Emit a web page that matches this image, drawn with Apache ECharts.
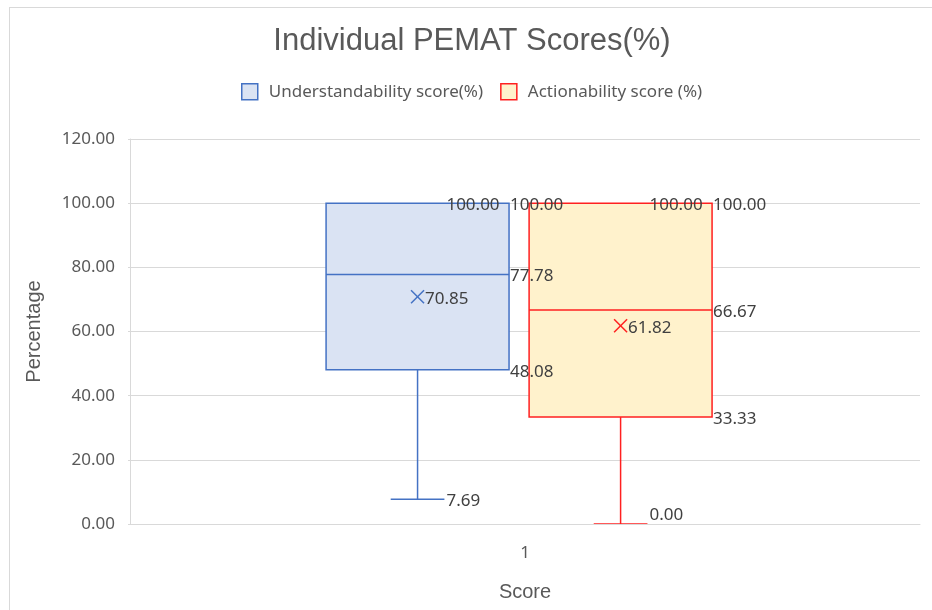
<!DOCTYPE html>
<html lang="en">
<head>
<meta charset="UTF-8">
<title>Individual PEMAT Scores</title>
<script src="https://cdn.jsdelivr.net/npm/echarts@6/dist/echarts.min.js"></script>
<style>
  body { margin: 0; background: #fff; }
  #frame { position: absolute; left: 9px; top: 7px; width: 923px; height: 603px;
           border-left: 1px solid #d9d9d9; border-top: 1px solid #d9d9d9; }
  #main { position: absolute; left: 0; top: 0; width: 932px; height: 610px; }
</style>
</head>
<body>
<div id="frame"></div>
<div id="main"></div>
<script type="text/javascript">
    var categories = ['1'];
    var seriesNames = ['Understandability score(%)', 'Actionability score (%)'];
    // min, q1, median, q3, max
    var understandStats = [7.69, 48.08, 77.78, 100.00, 100.00];
    var understandMean = 70.85;
    var actionStats = [0.00, 33.33, 66.67, 100.00, 100.00];
    var actionMean = 61.82;
    var yMin = 0, yMax = 120, yStep = 20;

    // look of each box: colours and where it sits inside the category band
    var boxLook = [
        { stroke: '#4472C4', fill: '#DAE3F3', offset: -0.136 },
        { stroke: '#FF2020', fill: '#FFF2CC', offset: 0.121 }
    ];
    var labelFont = '17px "Noto Sans"';

    function renderBox(params, api) {
        var look = boxLook[params.seriesIndex];
        var cat = api.value(0);
        var band = api.size([1, 0])[0];
        var cx = api.coord([cat, 0])[0] + look.offset * band;
        var half = band * 0.1158;
        var cap = band * 0.034;
        var y = function (i) { return api.coord([cat, api.value(i)])[1]; };
        var bottom = api.coord([cat, yMin])[1];
        var vMin = y(1), vQ1 = y(2), vMed = y(3), vQ3 = y(4), vMax = y(5), vMean = y(6);
        var ls = { stroke: look.stroke, lineWidth: 1.5 };
        var m = 6.5;

        var kids = [
            { type: 'rect', shape: { x: cx - half, y: vQ3, width: half * 2, height: vQ1 - vQ3 },
              style: { fill: look.fill, stroke: look.stroke, lineWidth: 1.5 } },
            { type: 'line', shape: { x1: cx - half, y1: vMed, x2: cx + half, y2: vMed }, style: ls },
            { type: 'line', shape: { x1: cx - m, y1: vMean - m, x2: cx + m, y2: vMean + m }, style: ls },
            { type: 'line', shape: { x1: cx - m, y1: vMean + m, x2: cx + m, y2: vMean - m }, style: ls }
        ];
        // whiskers only where they leave the box
        if (vMin > vQ1 + 0.5) {
            kids.push({ type: 'line', shape: { x1: cx, y1: vQ1, x2: cx, y2: vMin }, style: ls });
            kids.push({ type: 'line', shape: { x1: cx - cap, y1: vMin, x2: cx + cap, y2: vMin }, style: ls });
        }
        if (vMax < vQ3 - 0.5) {
            kids.push({ type: 'line', shape: { x1: cx, y1: vQ3, x2: cx, y2: vMax }, style: ls });
            kids.push({ type: 'line', shape: { x1: cx - cap, y1: vMax, x2: cx + cap, y2: vMax }, style: ls });
        }

        function lbl(idx, x, yy) {
            var low = yy + 9 > bottom;
            kids.push({
                type: 'text',
                style: {
                    text: api.value(idx).toFixed(2), x: x, y: low ? bottom : yy + 2,
                    fill: '#404040', font: labelFont, align: 'left',
                    verticalAlign: low ? 'bottom' : 'middle'
                },
                z2: 10
            });
        }
        lbl(5, cx + cap + 2, vMax);
        lbl(4, cx + half + 1, vQ3);
        lbl(3, cx + half + 1, vMed);
        lbl(2, cx + half + 1, vQ1);
        lbl(1, cx + cap + 2, vMin);
        lbl(6, cx + m + 1, vMean);

        return { type: 'group', children: kids };
    }

    var seriesData = [
        [[0].concat(understandStats, [understandMean])],
        [[0].concat(actionStats, [actionMean])]
    ];

    var myChart = echarts.init(document.getElementById('main'));
    var option = {
        animation: false,
        title: {
            text: 'Individual PEMAT Scores(%)',
            left: 467,
            textAlign: 'center',
            top: 21,
            textStyle: { fontFamily: 'Liberation Sans', fontWeight: 'normal', fontSize: 31, color: '#595959' }
        },
        legend: {
            left: 236,
            top: 78,
            itemWidth: 16,
            itemHeight: 16,
            itemGap: 17,
            icon: 'rect',
            textStyle: { fontFamily: 'Noto Sans', fontSize: 17, color: '#595959', padding: [0, 0, 0, 6] },
            data: seriesNames.map(function (n, i) {
                return { name: n, itemStyle: { color: boxLook[i].fill, borderColor: boxLook[i].stroke, borderWidth: 1.5 } };
            })
        },
        grid: { left: 130, right: 12, top: 139, bottom: 86 },
        xAxis: {
            type: 'category',
            data: categories,
            z: 3,
            name: 'Score',
            nameLocation: 'middle',
            nameGap: 58,
            nameTextStyle: { fontFamily: 'Liberation Sans', fontSize: 20, color: '#595959' },
            axisLine: { lineStyle: { color: '#d9d9d9' } },
            axisTick: { show: false },
            axisLabel: { fontFamily: 'Noto Sans', fontSize: 17, color: '#595959', margin: 21 }
        },
        yAxis: {
            type: 'value',
            min: yMin,
            max: yMax,
            interval: yStep,
            name: 'Percentage',
            nameLocation: 'middle',
            nameGap: 86,
            nameTextStyle: { fontFamily: 'Liberation Sans', fontSize: 20, color: '#595959' },
            axisLine: { show: true, lineStyle: { color: '#d9d9d9' } },
            axisTick: { show: true, length: 2, lineStyle: { color: '#d9d9d9' } },
            axisLabel: {
                fontFamily: 'Noto Sans', fontSize: 17, color: '#595959', margin: 15,
                formatter: function (v) { return v.toFixed(2); }
            },
            splitLine: { lineStyle: { color: '#d9d9d9' } }
        },
        series: seriesNames.map(function (n, i) {
            return {
                name: n,
                type: 'custom',
                z: 1,
                renderItem: renderBox,
                itemStyle: { color: boxLook[i].fill, borderColor: boxLook[i].stroke },
                encode: { x: 0, y: [1, 2, 3, 4, 5, 6] },
                data: seriesData[i]
            };
        })
    };
    myChart.setOption(option);
</script>
</body>
</html>
